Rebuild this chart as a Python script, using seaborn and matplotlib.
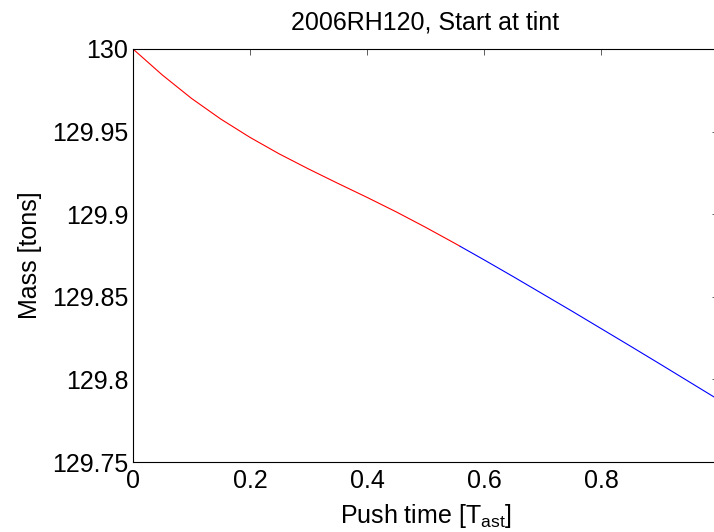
import numpy as np
import pandas as pd
import matplotlib
matplotlib.use("Agg")
import matplotlib.pyplot as plt
import seaborn as sns
from matplotlib.ticker import FuncFormatter

# Data
push_time_red = [0.0, 0.05, 0.10, 0.15, 0.20, 0.25, 0.30, 0.35, 0.40, 0.45, 0.50, 0.55, 0.559]
mass_red = [130.0, 129.9843, 129.9701, 129.9576, 129.9465, 129.9365, 129.9274, 129.9187, 129.9102,
            129.9014, 129.8921, 129.8824, 129.8806]
push_time_blue = [0.559, 0.60, 0.65, 0.70, 0.75, 0.80, 0.85, 0.90, 0.95, 1.0]
mass_blue = [129.8806, 129.8724, 129.8622, 129.8518, 129.8414, 129.8308, 129.8202, 129.8095, 129.7987, 129.7879]

x_ticks = [0, 0.2, 0.4, 0.6, 0.8]
y_ticks = [129.75, 129.8, 129.85, 129.9, 129.95, 130.0]

title_text = "2006RH120, Start at tint"
xlabel_text = "Push time [T$_\\mathregular{ast}$]"
ylabel_text = "Mass [tons]"

sns.set_style("white")
plt.rcParams["font.family"] = ["Liberation Sans", "DejaVu Sans"]
plt.rcParams["mathtext.fontset"] = "custom"
plt.rcParams["mathtext.rm"] = "Liberation Sans"
plt.rcParams["text.color"] = "black"
plt.rcParams["axes.labelcolor"] = "black"
plt.rcParams["xtick.color"] = "black"
plt.rcParams["ytick.color"] = "black"

W, H = 714, 532
fig = plt.figure(figsize=(W / 100, H / 100), dpi=100)
left, right, top, bottom = 133, 718, 49, 462
ax = fig.add_axes([left / W, 1 - bottom / H, (right - left) / W, (bottom - top) / H])

df_red = pd.DataFrame({"t": push_time_red, "m": mass_red})
df_blue = pd.DataFrame({"t": push_time_blue, "m": mass_blue})
sns.lineplot(data=df_red, x="t", y="m", ax=ax, color="#ff0000", linewidth=0.8, sort=False)
sns.lineplot(data=df_blue, x="t", y="m", ax=ax, color="#0000ff", linewidth=0.8, sort=False)

ax.set_xlim(0, 1)
ax.set_ylim(129.75, 130.0)
ax.set_xticks(x_ticks)
ax.set_yticks(y_ticks)
ax.xaxis.set_major_formatter(FuncFormatter(lambda v, p: f"{v:g}"))
ax.yaxis.set_major_formatter(FuncFormatter(lambda v, p: f"{v:g}"))

fs = 18
ax.tick_params(axis="both", which="major", direction="in", length=4.3, width=0.6,
               colors="#444444", labelcolor="black", labelsize=fs,
               top=True, right=True)
ax.tick_params(axis="x", pad=5)
ax.tick_params(axis="y", pad=3.5)
for s in ax.spines.values():
    s.set_visible(True)
    s.set_color("black")
    s.set_linewidth(0.8)

ax.set_xlabel(xlabel_text, fontsize=fs, labelpad=6.5, color="black")
ax.set_ylabel(ylabel_text, fontsize=fs, labelpad=7, color="black")
ax.set_title(title_text, fontsize=fs, pad=14, color="black")

fig.savefig("out.png", dpi=100)
